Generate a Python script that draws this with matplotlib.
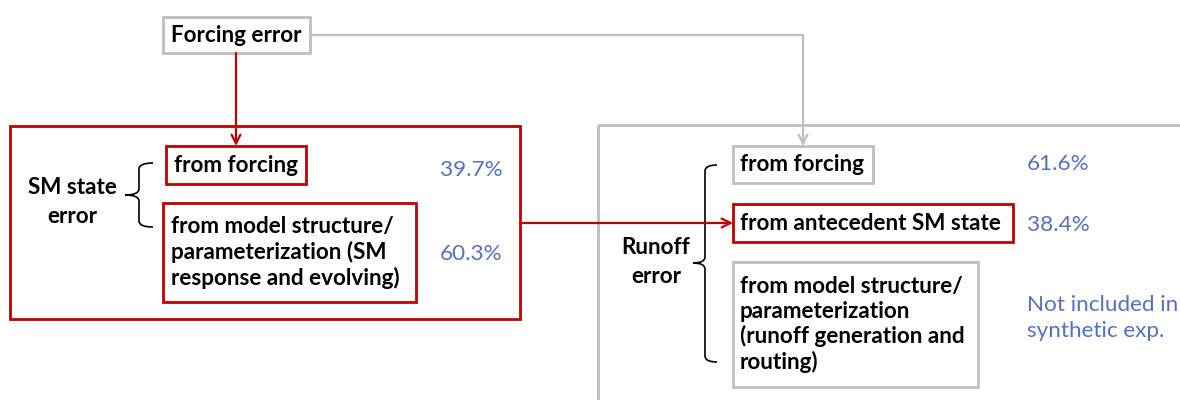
import matplotlib.pyplot as plt
from matplotlib.patches import Rectangle, PathPatch
from matplotlib.path import Path

plt.rcParams['font.family'] = ['Lato', 'DejaVu Sans']

# contents of the diagram
top_label = "Forcing error"
sm_title = "SM state\nerror"
sm_sources = ["from forcing",
              "from model structure/\nparameterization (SM\nresponse and evolving)"]
sm_shares = ["39.7%", "60.3%"]
ro_title = "Runoff\nerror"
ro_sources = ["from forcing",
              "from antecedent SM state",
              "from model structure/\nparameterization\n(runoff generation and\nrouting)"]
ro_shares = ["61.6%", "38.4%", "Not included in\nsynthetic exp."]

RED = '#C00000'
GRAY = '#BFBFBF'
BLUE = '#5670C0'
FS = 16.2

fig = plt.figure(figsize=(11.8, 4), dpi=100)
ax = fig.add_axes([0, 0, 1, 1])
ax.set_xlim(0, 1180)
ax.set_ylim(400, 0)
ax.axis('off')


def box(x0, y0, x1, y1, color, lw=1.6):
    ax.add_patch(Rectangle((x0, y0), x1 - x0, y1 - y0, fill=False,
                           edgecolor=color, lw=lw))


def brace(xt, xp, y0, y1, ym):
    # left pointing curly brace
    xm = (xt + xp) / 2
    r = 6
    verts = [(xt, y0), (xm, y0), (xm, y0 + r), (xm, y0 + r),
             (xm, ym - r), (xm, ym), (xp, ym), (xp, ym),
             (xm, ym), (xm, ym + r), (xm, ym + r),
             (xm, y1 - r), (xm, y1), (xt, y1)]
    codes = [Path.MOVETO, Path.CURVE3, Path.CURVE3, Path.LINETO,
             Path.LINETO, Path.CURVE3, Path.CURVE3, Path.MOVETO,
             Path.CURVE3, Path.CURVE3, Path.LINETO,
             Path.LINETO, Path.CURVE3, Path.CURVE3]
    ax.add_patch(PathPatch(Path(verts, codes), fill=False, lw=1.2, color='black'))


def arrow(x0, y0, x1, y1, color):
    ax.annotate('', xy=(x1, y1), xytext=(x0, y0),
                arrowprops=dict(arrowstyle='->', color=color, lw=1.6,
                                shrinkA=0, shrinkB=0, mutation_scale=16))


# top box
box(163, 17, 310, 53, GRAY, lw=2)
ax.text(236, 35, top_label, ha='center', va='center', fontsize=FS, fontweight='bold')

# left group (SM state error)
box(10, 126, 520, 319, RED, lw=2)
ax.text(72, 202, sm_title, ha='center', va='center', fontsize=FS,
        fontweight='bold', linespacing=1.45)
brace(153, 125, 163, 227, 195)
sm_boxes = [(166, 146, 306, 184), (163, 203, 416, 302)]
sm_pct_y = [170, 254]
for (x0, y0, x1, y1), lab, pct, py in zip(sm_boxes, sm_sources, sm_shares, sm_pct_y):
    box(x0, y0, x1, y1, RED, lw=2)
    ax.text(x0 + 8, (y0 + y1) / 2, lab, ha='left', va='center', fontsize=FS,
            fontweight='bold', linespacing=1.2)
    ax.text(471, py, pct, ha='center', va='center', fontsize=FS, color=BLUE)

# right group (runoff error)
box(598, 125, 1300, 500, GRAY, lw=2)
ax.text(656, 262, ro_title, ha='center', va='center', fontsize=FS,
        fontweight='bold', linespacing=1.5)
brace(717, 693, 165, 362, 263)
ro_boxes = [(733, 146, 873, 183), (733, 204, 1013, 242), (733, 262, 978, 387)]
ro_colors = [GRAY, RED, GRAY]
ro_pct_y = [164, 225, 318]
for (x0, y0, x1, y1), lab, pct, py, c in zip(ro_boxes, ro_sources, ro_shares, ro_pct_y, ro_colors):
    box(x0, y0, x1, y1, c, lw=2)
    ax.text(x0 + 7, (y0 + y1) / 2, lab, ha='left', va='center', fontsize=FS,
            fontweight='bold', linespacing=1.2)
    ax.text(1027, py, pct, ha='left', va='center', fontsize=FS, color=BLUE,
            linespacing=1.35)

# connectors
arrow(236, 53, 236, 146, RED)
ax.plot([310, 803], [35, 35], color=GRAY, lw=1.6)
arrow(803, 35, 803, 146, GRAY)
arrow(520, 223, 733, 223, RED)

fig.savefig('out.png', dpi=100)
